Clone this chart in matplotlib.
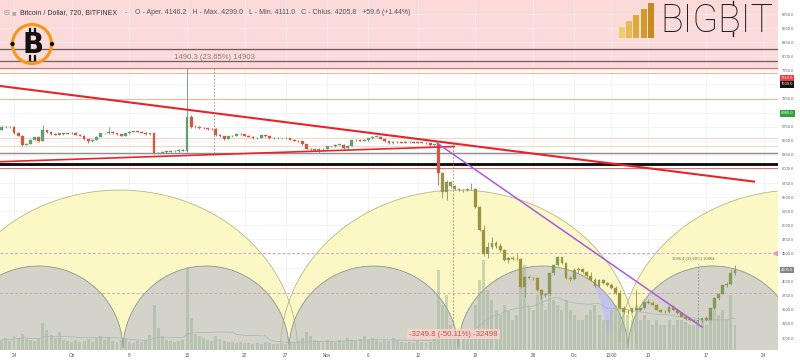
import numpy as np
import pandas as pd
import matplotlib
matplotlib.use("Agg")
import matplotlib.pyplot as plt
from matplotlib.patches import Circle, Rectangle
from matplotlib.lines import Line2D

# ---------------------------------------------------------------- data
first_candle_day = -1.5   # days after 24 Sep 2018 00:00
candle_step = 0.5         # 720-minute candles

opens = [
    6700, 6745, 6740, 6750, 6630, 6590, 6430, 6450, 6520, 6560,
    6500, 6690, 6650, 6620, 6610, 6630, 6625, 6630, 6640, 6610,
    6590, 6530, 6490, 6520, 6570, 6630, 6630, 6660, 6635, 6615,
    6590, 6630, 6660, 6665, 6660, 6640, 6615, 6630, 6280, 6290,
    6310, 6305, 6315, 6320, 6340, 6325,
    6930, 6740, 6745, 6730, 6720, 6715, 6710, 6600, 6580, 6540,
    6580, 6590, 6620, 6615, 6590, 6570, 6550, 6555, 6600, 6580,
    6550, 6545, 6545, 6545, 6550, 6520, 6505, 6490, 6440, 6360,
    6350, 6330, 6350, 6360, 6400, 6400, 6430, 6430, 6370, 6410,
    6510, 6515, 6505, 6515, 6545, 6570, 6575, 6540, 6490, 6460,
    6480, 6475, 6470, 6480, 6475, 6470, 6465, 6465, 6460, 6420,
    6440, 5924, 5600, 5770, 5690, 5640, 5630, 5625, 5640, 5650,
    5330, 4920, 4500, 4620, 4680, 4640, 4560, 4380, 4420, 4400,
    4410, 3910, 4090, 4070, 4060, 3850, 3765, 3780, 4150, 4300,
    4430, 4330, 4060, 4040, 4210, 4230, 4170, 4100, 4035, 3920,
    4030, 3975, 3945, 3885, 3800, 3530, 3470, 3455, 3525, 3500,
    3530, 3645, 3620, 3590, 3500, 3470, 3455, 3560, 3500, 3440,
    3380, 3335, 3325, 3295, 3320, 3350, 3325, 3530, 3705, 3790,
    3940, 3965, 4146.2]
highs = [
    6775, 6760, 6765, 6760, 6650, 6600, 6470, 6540, 6570, 6570,
    6780, 6700, 6665, 6640, 6645, 6640, 6645, 6655, 6650, 6620,
    6600, 6540, 6530, 6580, 6640, 6645, 6750, 6670, 6645, 6625,
    6640, 6670, 6680, 6675, 6670, 6650, 6640, 6640, 6310, 6320,
    6325, 6330, 6335, 6350, 6350, 7790,
    6960, 6780, 6760, 6745, 6735, 6730, 6720, 6615, 6590, 6590,
    6600, 6630, 6635, 6625, 6600, 6580, 6565, 6610, 6610, 6590,
    6560, 6560, 6555, 6560, 6555, 6530, 6515, 6500, 6450, 6375,
    6360, 6365, 6370, 6410, 6415, 6440, 6445, 6440, 6420, 6520,
    6525, 6525, 6525, 6555, 6585, 6600, 6590, 6550, 6500, 6490,
    6490, 6485, 6490, 6490, 6485, 6480, 6475, 6475, 6470, 6450,
    6470, 5940, 5800, 5790, 5720, 5660, 5650, 5660, 5746, 5670,
    5350, 5000, 4700, 4800, 4720, 4680, 4580, 4440, 4450, 4500,
    4420, 4100, 4120, 4090, 4080, 3870, 3800, 4160, 4310, 4450,
    4440, 4340, 4110, 4240, 4260, 4240, 4190, 4180, 4060, 4040,
    4050, 3990, 3980, 3920, 3860, 3570, 3510, 3540, 3850, 3540,
    3660, 3690, 3660, 3600, 3520, 3490, 3570, 3580, 3540, 3450,
    3395, 3360, 3340, 3330, 3360, 3390, 3540, 3720, 3800, 3950,
    3990, 4220, 4299.0]
lows = [
    6690, 6725, 6730, 6615, 6580, 6400, 6420, 6440, 6510, 6480,
    6490, 6640, 6610, 6600, 6600, 6610, 6615, 6620, 6600, 6580,
    6520, 6460, 6480, 6510, 6560, 6615, 6620, 6625, 6600, 6580,
    6580, 6620, 6650, 6650, 6630, 6605, 6600, 6260, 6260, 6280,
    6290, 6300, 6305, 6310, 6315, 6300,
    6720, 6720, 6715, 6705, 6700, 6695, 6590, 6570, 6520, 6530,
    6570, 6580, 6600, 6580, 6560, 6540, 6540, 6545, 6570, 6540,
    6535, 6535, 6535, 6540, 6510, 6495, 6480, 6430, 6350, 6340,
    6320, 6290, 6340, 6350, 6385, 6390, 6420, 6360, 6360, 6400,
    6500, 6495, 6500, 6505, 6535, 6560, 6530, 6480, 6450, 6450,
    6465, 6460, 6465, 6465, 6460, 6455, 6455, 6450, 6410, 6405,
    5717, 5480, 5450, 5660, 5620, 5610, 5600, 5610, 5620, 5300,
    4900, 4450, 4420, 4580, 4600, 4530, 4360, 4330, 4380, 4380,
    3880, 3735, 4040, 4030, 3830, 3700, 3720, 3760, 4120, 4280,
    4320, 4040, 4010, 4030, 4150, 4150, 4080, 4020, 3900, 3900,
    3960, 3930, 3870, 3780, 3510, 3450, 3430, 3440, 3490, 3480,
    3520, 3600, 3580, 3490, 3460, 3440, 3445, 3490, 3430, 3370,
    3320, 3310, 3280, 3260, 3285, 3310, 3320, 3520, 3670, 3780,
    3900, 3940, 4111.0]
closes = [
    6745, 6740, 6750, 6630, 6590, 6430, 6450, 6520, 6560, 6500,
    6690, 6650, 6620, 6610, 6630, 6625, 6630, 6640, 6610, 6590,
    6530, 6490, 6520, 6570, 6630, 6630, 6660, 6635, 6615, 6590,
    6630, 6660, 6665, 6660, 6640, 6615, 6630, 6280, 6290, 6310,
    6305, 6315, 6320, 6340, 6325, 6930,
    6740, 6745, 6730, 6720, 6715, 6710, 6600, 6580, 6540, 6580,
    6590, 6620, 6615, 6590, 6570, 6550, 6555, 6600, 6580, 6550,
    6545, 6545, 6545, 6550, 6520, 6505, 6490, 6440, 6360, 6350,
    6330, 6350, 6360, 6400, 6400, 6430, 6430, 6370, 6410, 6510,
    6515, 6505, 6515, 6545, 6570, 6575, 6540, 6490, 6460, 6480,
    6475, 6470, 6480, 6475, 6470, 6465, 6465, 6460, 6420, 6440,
    5924, 5600, 5770, 5690, 5640, 5630, 5625, 5640, 5650, 5330,
    4920, 4500, 4620, 4680, 4640, 4560, 4380, 4420, 4400, 4410,
    3910, 4090, 4070, 4060, 3850, 3765, 3780, 4150, 4300, 4430,
    4330, 4060, 4040, 4210, 4230, 4170, 4100, 4035, 3920, 4030,
    3975, 3945, 3885, 3795, 3530, 3470, 3455, 3525, 3500, 3530,
    3645, 3620, 3590, 3500, 3470, 3455, 3560, 3500, 3440, 3380,
    3335, 3325, 3295, 3320, 3350, 3325, 3530, 3705, 3790, 3940,
    3965, 4146, 4205.8]
volumes = [
    10, 12, 9, 14, 12, 16, 11, 10, 9, 12,
    27, 20, 15, 12, 18, 10, 9, 8, 10, 8,
    9, 11, 8, 12, 14, 10, 13, 9, 8, 10,
    12, 8, 7, 9, 8, 10, 15, 45, 22, 14,
    10, 9, 8, 9, 10, 83,
    32, 16, 14, 12, 10, 9, 14, 11, 9, 8,
    8, 7, 8, 7, 7, 6, 7, 6, 8, 7,
    6, 6, 7, 6, 8, 7, 9, 12, 18, 14,
    10, 9, 8, 10, 9, 8, 10, 9, 12, 10,
    9, 11, 14, 10, 12, 10, 8, 10, 9, 12,
    10, 8, 7, 8, 7, 9, 8, 7, 8, 15,
    80, 45, 55, 25, 20, 18, 18, 15, 20, 45,
    70, 90, 60, 50, 40, 35, 45, 40, 30, 35,
    75, 85, 45, 40, 55, 60, 40, 55, 50, 45,
    40, 50, 40, 35, 30, 30, 35, 40, 45, 35,
    30, 30, 40, 45, 55, 40, 35, 30, 45, 30,
    35, 30, 25, 30, 25, 25, 30, 25, 30, 30,
    28, 25, 25, 30, 30, 25, 40, 45, 35, 40,
    30, 55, 25]

tick_days = [0, 7, 14, 21, 28, 33, 38, 43, 49, 56, 63, 68, 72.5, 77, 84, 91]
tick_labels = ["24", "Ott", "8", "15", "22", "27", "Nov", "6", "12", "19",
               "26", "Dic", "13:00", "10", "17", "24"]

axis_prices = [3000, 3250, 3500, 3750, 4000, 4500, 4750, 5000, 5250, 5500,
               5750, 6000, 6250, 6500, 6750, 7250, 7750, 8000, 8250, 8500, 8750]
grid_prices = [3000, 3250, 3500, 3750, 4000, 4250, 4500, 4750, 5000, 5250,
               5500, 5750, 6000, 6250, 6500, 6750, 7000, 7250, 7500, 7750,
               8000, 8250, 8500, 8750]

level_prices = [8129, 7916, 7792, 7703, 7242, 6550, 6408, 6284, 6089, 6018]
dashed_prices = [4510, 3800]

tag_prices = [7610.0, 7500.0, 6985.0, 4205.8]
tag_texts = ["7610.0", "7500.0", "6985.0", "4205.8"]

upper_red = ([-1.70, 89.93], [7473, 5774])
lower_red = ([-1.70, 53.52], [6129, 6399])
purple_line = ([51.33, 83.50], [6461, 3196])

measure_days = [24.27, 53.28, 83.0]
measure_from = [6284, 6461, 3236]
measure_to = [7792, 3236, 4322]
measure_texts = ["1490.3 (23.65%) 14903", "-3249.8 (-50.11%) -32498",
                 "1086.4 (33.60%) 10864"]

yellow_centers = [12.80, 53.94, 95.08]
gray_cusps = [-7.28, 13.23, 33.37, 53.88, 74.51, 95.03]
cycle_cusps = [-5.83, 33.13, 72.09, 111.05]

# ---------------------------------------------------------------- layout
W, H = 800, 363
fig = plt.figure(figsize=(W / 100, H / 100), dpi=100)
fig.patch.set_facecolor("white")

YMIN, YMAX = 2788.4, 8998.4
XMIN, XMAX = -1.70, 92.68
pos = [0, 13 / H, 777.7 / W, 350 / H]

ax_bg = fig.add_axes(pos)
ax_vol = fig.add_axes(pos, sharex=ax_bg)
ax = fig.add_axes(pos, sharex=ax_bg, sharey=ax_bg)
for a in (ax_bg, ax_vol, ax):
    a.patch.set_visible(False)
    for s in a.spines.values():
        s.set_visible(False)
ax_bg.set_xlim(XMIN, XMAX)
ax_bg.set_ylim(YMIN, YMAX)
ax_bg.tick_params(left=False, labelleft=False, bottom=False, labelbottom=False)
ax_vol.axis("off")
ax_vol.set_ylim(0, 350)

# background: pink band, grid
ax_bg.axhspan(7792, YMAX + 500, color="#fcdada", lw=0, zorder=0)
for p in grid_prices:
    ax_bg.axhline(p, color="#eeeeee", lw=0.5, zorder=0.2)
for d in tick_days:
    ax_bg.axvline(d, color="#eeeeee", lw=0.5, zorder=0.2)

# time-cycle arcs
xs = np.linspace(-12, 100, 4000)
Y_H = 2838.0
G_H = 1490.0
Y_HALF = 21.6


def half_ellipse(x, c, half, h):
    return h * np.sqrt(np.clip(1 - ((x - c) / half) ** 2, 0, None))


hY = np.max([half_ellipse(xs, c, Y_HALF, Y_H) for c in yellow_centers], axis=0)
g_list = [half_ellipse(xs, (a + b) / 2, (b - a) / 2, G_H)
          for a, b in zip(gray_cusps[:-1], gray_cusps[1:])]
hG = np.max(g_list, axis=0)
hX = np.max([half_ellipse(xs, (a + b) / 2, (b - a) / 2, Y_H)
             for a, b in zip(cycle_cusps[:-1], cycle_cusps[1:])], axis=0)

ax_bg.fill_between(xs, YMIN, YMIN + hY, color="#fbf8c6", lw=0, zorder=0.5)
ax_bg.fill_between(xs, YMIN, YMIN + hG, color="#c3c3ee", lw=0, zorder=0.6)
ax_bg.fill_between(xs, YMIN, YMIN + np.minimum(hG, hX), color="#d3d3c9",
                   lw=0, zorder=0.7)
for c in yellow_centers:
    h = half_ellipse(xs, c, Y_HALF, Y_H)
    ax_bg.plot(xs, np.where(h > 0, YMIN + h, np.nan), color="#b4b986",
               lw=0.6, zorder=0.8)
for h in g_list:
    ax_bg.plot(xs, np.where(h > 0, YMIN + h, np.nan), color="#8e9a86",
               lw=0.6, zorder=0.8)

# ---------------------------------------------------------------- volume
n = len(closes)
xd = first_candle_day + candle_step * np.arange(n)
vol = pd.Series(volumes, dtype=float)
ax_vol.bar(xd, vol, width=0.36, color="#9fb39a", alpha=0.5, lw=0)
ax_vol.plot(xd, vol.rolling(20, min_periods=1).mean(), color="#aab4be", lw=0.5)

# ---------------------------------------------------------------- price
o = np.array(opens, float)
hi = np.array(highs, float)
lo = np.array(lows, float)
c = np.array(closes, float)
up = c >= o
tinted = np.arange(n) >= 107
cols = np.where(tinted, np.where(up, "#86985a", "#9c9240"),
                np.where(up, "#5f9f76", "#d35744"))

# horizontal levels
level_styles = [("#6a5757", 0.9), ("#7a5a5a", 0.9), ("#e8666a", 0.8),
                ("#f2b894", 0.8), ("#f2b894", 0.8), ("#f6cdb4", 0.6),
                ("#f6cdb4", 0.6), ("#8e8e8e", 1.0), ("#111111", 2.1),
                ("#e86a6a", 0.7)]
for p, (col, lw) in zip(level_prices, level_styles):
    ax.axhline(p, color=col, lw=lw, zorder=2)
for p in dashed_prices:
    ax.axhline(p, color="#d8a0c6", lw=0.7, ls=(0, (3, 2)), zorder=2)
ax.plot([XMAX - 0.3], [dashed_prices[0]], marker="<", ms=3, color="#d8a0c6",
        clip_on=False, zorder=3)

ax.vlines(xd, lo, hi, colors=cols, lw=0.6, zorder=3)
ax.bar(xd, np.maximum(np.abs(c - o), 8), bottom=np.minimum(o, c), width=0.34,
       color=cols, edgecolor=cols, lw=0.2, zorder=4)

# trend lines
ax.plot(*upper_red, color="#e8242b", lw=1.5, zorder=5, solid_capstyle="butt")
ax.plot(*lower_red, color="#e8242b", lw=1.2, zorder=5, solid_capstyle="butt")
ax.plot(*purple_line, color="#a75cdc", lw=1.1, zorder=5)

# measures
m_cols = ["#8c8c8c", "#b47a68", "#8c8c8c"]
for d, p0, p1, col in zip(measure_days, measure_from, measure_to, m_cols):
    ax.vlines(d, min(p0, p1), max(p0, p1), colors=col, lw=0.6,
              linestyles=(0, (2, 2)), zorder=5)
ax.text(24.33, 7987, measure_texts[0], fontsize=5.6, color="#8a7f5c",
        ha="center", va="center", family=["Liberation Sans", "DejaVu Sans"],
        zorder=6)
ax.text(53.34, 3072, measure_texts[1], fontsize=5.6, color="#c2583d",
        ha="center", va="center", family=["Liberation Sans", "DejaVu Sans"],
        bbox=dict(boxstyle="square,pad=0.25", fc="#f9d3d0", ec="none",
                  alpha=0.85), zorder=6)
ax.text(82.46, 4403, measure_texts[2], fontsize=3.0, color="#6f7a45",
        ha="center", va="center", family=["Liberation Sans", "DejaVu Sans"],
        zorder=6)

# axes ticks
ax.yaxis.tick_right()
ax.set_yticks(axis_prices, [f"{p:.1f}" for p in axis_prices])
ax.tick_params(axis="y", length=0, pad=3.2, labelsize=3.0, labelcolor="#666666")
ax.set_xticks(tick_days, tick_labels)
ax.tick_params(axis="x", length=0, pad=2.3, labelsize=3.3, labelcolor="#555555")
for lab in ax.get_xticklabels() + ax.get_yticklabels():
    lab.set_family(["Liberation Sans", "DejaVu Sans"])
ax.set_xlim(XMIN, XMAX)
ax.set_ylim(YMIN, YMAX)

tag_bg = ["#f23a3a", "#111111", "#2da53a", "#7d8a7b"]
for p, t, bg in zip(tag_prices, tag_texts, tag_bg):
    ax.text(1.004, p, t, transform=ax.get_yaxis_transform(), ha="left",
            va="center", fontsize=3.0, color="white",
            family=["Liberation Sans", "DejaVu Sans"],
            bbox=dict(boxstyle="square,pad=0.3", fc=bg, ec="none"), zorder=7)

# ---------------------------------------------------------------- header
def fx(x):
    return x / W


def fy(y):
    return 1 - y / H


fig.text(fx(3), fy(13), "\u229f", fontsize=5, color="#999999", va="center",
         family=["DejaVu Sans"])
fig.text(fx(12), fy(13), "\u25a0", fontsize=3.5, color="#aaaaaa", va="center",
         family=["DejaVu Sans"])
fig.text(fx(20), fy(13), "Bitcoin / Dollar, 720, BITFINEX", fontsize=5,
         color="#333333", va="center", family=["Liberation Sans", "DejaVu Sans"])
fig.text(fx(124), fy(13), "\u00b7", fontsize=5, color="#555555", va="center")
fig.text(fx(135), fy(13),
         "O - Aper. 4146.2   H - Max. 4299.0   L - Min. 4111.0   "
         "C - Chius. 4205.8   +59.6 (+1.44%)",
         fontsize=5, color="#555555", va="center",
         family=["Liberation Sans", "DejaVu Sans"])

# bitcoin logo
lax = fig.add_axes([fx(8), fy(68), 48 / W, 48 / H])
lax.set_xlim(8, 56)
lax.set_ylim(68, 20)
lax.axis("off")
lax.add_patch(Circle((32, 44), 19.5, fill=False, ec="#f39a1e", lw=2.3))
lax.add_patch(Circle((12.5, 44), 2.2, fc="#111111", ec="none"))
lax.add_patch(Circle((52, 44), 2.2, fc="#111111", ec="none"))
lax.text(33, 45, "B", fontsize=20, fontweight="bold", color="#111111",
         ha="center", va="center", family="DejaVu Sans")
for xx in (30.5, 35.0):
    lax.plot([xx, xx], [29, 33], color="#111111", lw=1.6)
    lax.plot([xx, xx], [56, 60], color="#111111", lw=1.6)

# BIGBIT logo
gold = ["#f0cc6a", "#e6bb4f", "#dcaa3c", "#cf9a2e", "#c48b22"]
bar_h = [11, 17, 23, 29, 35]
for i, (gc, hh) in enumerate(zip(gold, bar_h)):
    fig.add_artist(Rectangle((fx(619 + 7.2 * i), fy(38)), 6 / W, hh / H,
                             transform=fig.transFigure, fc=gc, ec="none"))
fig.text(fx(773), fy(32), "BIGBIT", ha="right", va="baseline", fontsize=27,
         family=["Roboto", "DejaVu Sans"], fontweight="light", color="#1e1e1e")
for yy in ((1, 5), (32, 36)):
    fig.add_artist(Line2D([fx(733), fx(733)], [fy(yy[0]), fy(yy[1])],
                          transform=fig.transFigure, color="#1e1e1e", lw=1.0))

fig.savefig("out.png", dpi=100)
